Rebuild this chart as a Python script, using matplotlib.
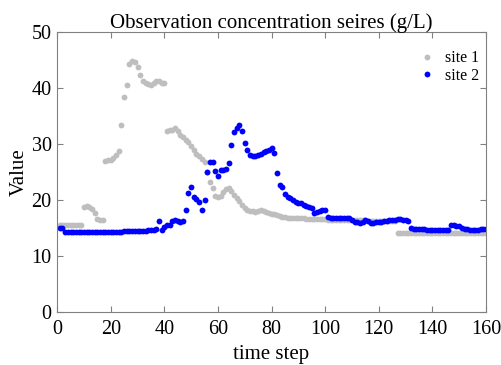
import numpy as np
import matplotlib.pyplot as plt

plt.rcParams["font.family"] = ["Liberation Serif", "DejaVu Serif"]

# time steps 1..160
t = np.arange(1, 161)

site1 = [
    15.6, 15.6, 15.6, 15.6, 15.6, 15.6, 15.6, 15.6, 15.6, 18.8,
    18.9, 18.8, 18.4, 17.7, 16.6, 16.4, 16.4, 27.0, 27.1, 27.2,
    27.5, 28.0, 28.8, 33.5, 38.5, 40.5, 44.3, 44.8, 44.6, 43.7,
    42.3, 41.3, 41.0, 40.7, 40.6, 40.9, 41.2, 41.2, 41.0, 40.9,
    32.3, 32.5, 32.5, 32.8, 32.3, 31.6, 31.2, 30.7, 30.3, 29.6,
    28.9, 28.2, 27.8, 27.3, 26.8, 25.0, 23.2, 22.1, 20.7, 20.6,
    20.8, 21.4, 22.0, 22.2, 21.7, 20.9, 20.4, 19.8, 19.1, 18.6,
    18.3, 18.1, 18.0, 17.9, 18.1, 18.3, 18.0, 17.8, 17.7, 17.6,
    17.6, 17.4, 17.2, 17.0, 16.9, 16.8, 16.8, 16.8, 16.8, 16.8,
    16.8, 16.8, 16.7, 16.7, 16.7, 16.7, 16.6, 16.6, 16.6, 16.6,
    16.5, 16.5, 16.5, 16.5, 16.5, 16.5, 16.5, 16.5, 16.4, 16.4,
    16.4, 16.4, 16.4, 16.4, 16.4, 16.3, 16.3, 16.3, 16.3, 16.3,
    16.2, 16.2, 16.2, 16.2, 16.2, 16.2, 14.1, 14.1, 14.1, 14.1,
    14.1, 14.1, 14.1, 14.1, 14.1, 14.1, 14.1, 14.1, 14.1, 14.1,
    14.1, 14.1, 14.1, 14.1, 14.1, 14.1, 14.1, 14.1, 14.1, 14.1,
    14.1, 14.1, 14.1, 14.1, 14.1, 14.1, 14.1, 14.1, 14.1, 14.1,
]

site2 = [
    15.0, 15.0, 14.3, 14.3, 14.3, 14.3, 14.3, 14.3, 14.3, 14.3,
    14.3, 14.3, 14.3, 14.3, 14.3, 14.3, 14.3, 14.3, 14.3, 14.3,
    14.3, 14.3, 14.3, 14.3, 14.4, 14.4, 14.4, 14.4, 14.5, 14.5,
    14.5, 14.5, 14.5, 14.6, 14.6, 14.7, 14.8, 16.2, 14.7, 15.2,
    15.5, 15.6, 16.3, 16.4, 16.2, 16.1, 16.2, 18.2, 21.3, 22.3,
    20.5, 20.2, 19.6, 18.2, 20.0, 25.0, 26.8, 26.8, 25.2, 24.3,
    25.4, 25.4, 25.5, 26.6, 29.8, 32.1, 32.8, 33.4, 32.3, 30.2,
    29.0, 28.1, 27.8, 27.8, 28.0, 28.3, 28.6, 28.7, 28.9, 29.3,
    28.5, 24.8, 22.7, 22.3, 21.0, 20.5, 20.3, 20.0, 19.7, 19.5,
    19.4, 19.1, 18.9, 18.7, 18.5, 17.7, 17.8, 18.0, 18.2, 18.2,
    17.0, 16.8, 16.8, 16.8, 16.8, 16.8, 16.8, 16.8, 16.8, 16.5,
    16.1, 16.0, 15.9, 16.1, 16.4, 16.3, 15.9, 15.9, 16.0, 16.0,
    16.1, 16.2, 16.3, 16.4, 16.4, 16.5, 16.6, 16.6, 16.5, 16.4,
    16.2, 15.0, 14.8, 14.8, 14.8, 14.8, 14.8, 14.7, 14.7, 14.7,
    14.7, 14.7, 14.6, 14.6, 14.6, 14.6, 15.5, 15.5, 15.4, 15.3,
    15.0, 14.9, 14.8, 14.7, 14.7, 14.6, 14.7, 14.8, 14.8, 14.8,
]

fig = plt.figure(figsize=(5.01, 3.65), dpi=100)
ax = fig.add_axes([0.114, 0.145, 0.856, 0.767])

ax.plot(t, site1, "o", color="#bebebe", ms=4.2, mec="none", label="site 1")
ax.plot(t, site2, "o", color="#0000ff", ms=4.2, mec="none", label="site 2")

ax.set_xlim(0, 160)
ax.set_ylim(0, 50)
ax.set_xticks(np.arange(0, 161, 20))
ax.set_yticks(np.arange(0, 51, 10))
ax.tick_params(direction="in", top=True, right=True, length=4,
               color="#808080", labelsize=14.5)
ax.tick_params(axis="x", pad=6)
ax.tick_params(axis="y", pad=4)
for s in ax.spines.values():
    s.set_color("#808080")
    s.set_linewidth(0.8)

ax.set_title("Observation concentration seires (g/L)", fontsize=15, pad=3)
ax.set_xlabel("time step", fontsize=15, labelpad=4)
ax.set_ylabel("Value", fontsize=15, labelpad=2)
ax.legend(loc="upper right", frameon=False, fontsize=11.5,
          handletextpad=0.15, labelspacing=0.1,
          bbox_to_anchor=(1.01, 0.975), borderaxespad=0.3)

fig.savefig("out.png", dpi=100)
